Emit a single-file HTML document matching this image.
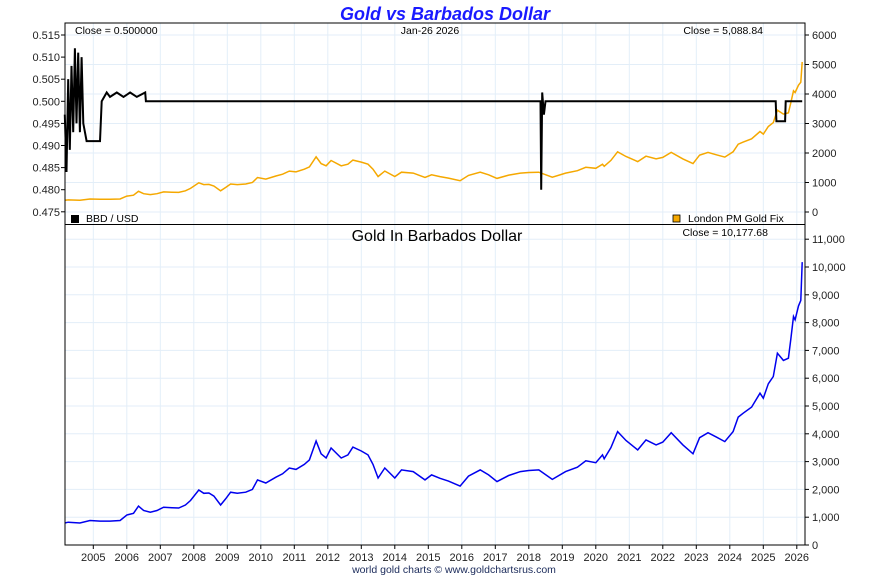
<!DOCTYPE html>
<html><head><meta charset="utf-8"><style>
body{margin:0;background:#fff;font-family:"Liberation Sans",sans-serif;}
svg text{font-family:"Liberation Sans",sans-serif;}
</style></head><body>
<svg id="c" width="890" height="575"></svg>
<script>
const years=[2005,2006,2007,2008,2009,2010,2011,2012,2013,2014,2015,2016,2017,2018,2019,2020,2021,2022,2023,2024,2025,2026];
const leftTicks=[0.475,0.480,0.485,0.490,0.495,0.500,0.505,0.510,0.515];
const rightTopTicks=[0,1000,2000,3000,4000,5000,6000];
const bottomTicks=[0,1000,2000,3000,4000,5000,6000,7000,8000,9000,10000,11000];
const goldDates=[2004.15,2004.25,2004.6,2004.9,2005.2,2005.5,2005.8,2006.0,2006.2,2006.35,2006.5,2006.7,2006.9,2007.1,2007.35,2007.55,2007.75,2007.9,2008.15,2008.3,2008.45,2008.6,2008.8,2008.95,2009.1,2009.3,2009.55,2009.75,2009.9,2010.15,2010.45,2010.65,2010.85,2011.05,2011.3,2011.45,2011.65,2011.8,2011.95,2012.1,2012.4,2012.6,2012.75,2013.0,2013.2,2013.35,2013.5,2013.7,2014.0,2014.2,2014.55,2014.9,2015.1,2015.35,2015.6,2015.95,2016.2,2016.55,2016.8,2017.05,2017.4,2017.75,2018.0,2018.3,2018.7,2019.1,2019.45,2019.7,2020.0,2020.2,2020.25,2020.45,2020.65,2020.9,2021.25,2021.5,2021.8,2022.0,2022.25,2022.6,2022.9,2023.1,2023.35,2023.6,2023.85,2024.1,2024.25,2024.4,2024.65,2024.9,2025.0,2025.15,2025.3,2025.42,2025.6,2025.75,2025.82,2025.9,2025.95,2026.05,2026.12,2026.16];
const goldUSD=[395,410,395,440,430,430,440,540,570,700,620,590,620,680,670,665,720,800,990,930,935,880,720,830,950,930,950,1000,1170,1115,1220,1280,1385,1360,1450,1530,1870,1640,1565,1745,1565,1620,1760,1690,1620,1450,1205,1385,1205,1350,1320,1170,1260,1200,1150,1060,1240,1350,1260,1140,1250,1320,1340,1350,1180,1320,1400,1515,1480,1620,1550,1750,2040,1880,1710,1890,1800,1850,2020,1800,1640,1930,2020,1940,1860,2040,2300,2370,2480,2730,2640,2900,3030,3450,3320,3360,3700,4110,4050,4300,4400,5089];
const goldBBD=goldUSD.map(v=>v*2);
const rateDates=[2004.15,2004.2,2004.25,2004.3,2004.35,2004.4,2004.45,2004.5,2004.55,2004.6,2004.65,2004.7,2004.8,2004.9,2005.2,2005.25,2005.4,2005.5,2005.7,2005.9,2006.1,2006.3,2006.55,2006.57,2018.35,2018.37,2018.4,2018.45,2018.5,2025.37,2025.39,2025.65,2025.67,2026.16];
const rateVal=[0.497,0.484,0.505,0.489,0.508,0.493,0.512,0.495,0.511,0.493,0.510,0.495,0.491,0.491,0.491,0.500,0.502,0.501,0.502,0.501,0.502,0.501,0.502,0.500,0.500,0.480,0.502,0.497,0.500,0.500,0.4955,0.4955,0.500,0.500];
const X0=65,X1=805;
const x=d=>93.3+(d-2005)*33.5;
const yL=v=>35+(0.515-v)/0.005*22.1;
const yR=v=>212-v/1000*29.5;
const yB=v=>545-v/1000*27.8;
const s=document.getElementById('c');const NS='http://www.w3.org/2000/svg';
function el(t,a,txt){const e=document.createElementNS(NS,t);for(const k in a)e.setAttribute(k,a[k]);if(txt!==undefined)e.textContent=txt;s.appendChild(e);return e;}
years.forEach(y=>{const g=el('line',{x1:x(y),x2:x(y),y1:23,y2:545,stroke:'#e3eef8'});


el('line',{x1:x(y),x2:x(y),y1:545,y2:549,stroke:'#000'});
const t=el('text',{x:x(y),y:561,'font-size':11,'text-anchor':'middle',fill:'#222'},y);

});
rightTopTicks.forEach(v=>{const g=el('line',{x1:X0,x2:X1,y1:yR(v),y2:yR(v),stroke:'#e3eef8'});


el('line',{x1:X1,x2:X1+4,y1:yR(v),y2:yR(v),stroke:'#000'});
const t=el('text',{x:812,y:yR(v)+4,'font-size':11,fill:'#222'},v);

});
leftTicks.forEach(v=>{el('line',{x1:X0-4,x2:X0,y1:yL(v),y2:yL(v),stroke:'#000'});
const t=el('text',{x:60,y:yL(v)+4,'font-size':11,'text-anchor':'end',fill:'#222'},v.toFixed(3));

});
bottomTicks.forEach(v=>{const g=el('line',{x1:X0,x2:X1,y1:yB(v),y2:yB(v),stroke:'#e3eef8'});


el('line',{x1:X1,x2:X1+4,y1:yB(v),y2:yB(v),stroke:'#000'});
const t=el('text',{x:812,y:yB(v)+4,'font-size':11,fill:'#222'},v.toLocaleString('en-US'));

});
function pts(ds,vs,fy){return ds.map((d,i)=>x(d).toFixed(1)+','+fy(vs[i]).toFixed(1)).join(' ');}
const g1=el('polyline',{points:pts(goldDates,goldUSD,yR),fill:'none',stroke:'#f5a800','stroke-width':1.5});


const r1=el('polyline',{points:pts(rateDates,rateVal,yL),fill:'none',stroke:'#000','stroke-width':2});


const b1=el('polyline',{points:pts(goldDates,goldBBD,yB),fill:'none',stroke:'#0000ee','stroke-width':1.5});


el('rect',{x:X0,y:23,width:X1-X0,height:522,fill:'none',stroke:'#000','stroke-width':1});
el('line',{x1:X0,x2:X1,y1:224.5,y2:224.5,stroke:'#000'});
const t1=el('text',{x:445,y:20,'font-size':18,'font-weight':'bold','font-style':'italic','text-anchor':'middle',fill:'#1a1aff'},'Gold vs Barbados Dollar');


el('text',{x:75,y:34,'font-size':10.5,fill:'#000'},'Close = 0.500000');
el('text',{x:430,y:34,'font-size':10.5,'text-anchor':'middle',fill:'#000'},'Jan-26  2026');
el('text',{x:763,y:34,'font-size':10.5,'text-anchor':'end',fill:'#000'},'Close = 5,088.84');
el('rect',{x:71,y:215,width:8,height:8,fill:'#000'});
const l1=el('text',{x:86,y:222,'font-size':10.5,fill:'#000'},'BBD / USD');


el('rect',{x:673,y:215,width:7,height:7,fill:'#f5a800',stroke:'#000','stroke-width':0.8});
const l2=el('text',{x:688,y:222,'font-size':10.5,fill:'#000'},'London PM Gold Fix');


const t2=el('text',{x:437,y:241,'font-size':16,'text-anchor':'middle',fill:'#000'},'Gold In Barbados Dollar');


el('text',{x:768,y:236,'font-size':10.5,'text-anchor':'end',fill:'#000'},'Close = 10,177.68');
const f=el('text',{x:454,y:573,'font-size':10.5,'text-anchor':'middle',fill:'#1a2a5a'},'world gold charts © www.goldchartsrus.com');


</script>
</body></html>
